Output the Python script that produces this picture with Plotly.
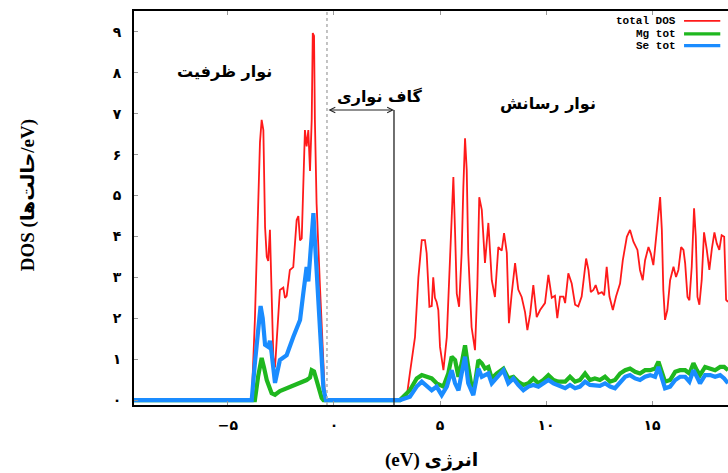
import plotly.graph_objects as go

# ---------------- data ----------------
# total DOS, valence band
E_total_vb = [-9.6, -3.88, -3.73, -3.57, -3.49, -3.41, -3.33, -3.25, -3.17, -3.10,
              -3.02, -2.94, -2.86, -2.78, -2.67, -2.55, -2.39, -2.31, -2.23, -2.08,
              -1.92, -1.76, -1.68, -1.60, -1.52, -1.45, -1.37, -1.29, -1.21, -1.13,
              -1.05, -1.00, -0.94, -0.90, -0.82, -0.66, -0.50, -0.42]
dos_total_vb = [0, 0, 1.96, 5.06, 6.3, 6.85, 6.6, 4.23, 3.5, 3.4,
                4.16, 2.6, 1.05, 0.8, 1.6, 2.69, 2.75, 2.5, 2.55, 3.18,
                3.25, 4.4, 4.5, 3.9, 3.95, 4.96, 6.6, 6.2, 6.6, 5.6,
                6.85, 8.97, 8.9, 6.85, 4.8, 2.77, 1.15, 0]
# total DOS, conduction band
E_total_cb = [3.11, 3.43, 3.58, 3.82, 3.98, 4.14, 4.29, 4.37, 4.50, 4.61,
              4.68, 4.76, 4.84, 4.92, 5.00, 5.16, 5.32, 5.47, 5.55, 5.63,
              5.71, 5.79, 5.90, 6.02, 6.10, 6.18, 6.26, 6.33, 6.49, 6.65,
              6.76, 6.85, 6.97, 7.12, 7.28, 7.44, 7.59, 7.75, 7.91, 8.02,
              8.15, 8.25, 8.38, 8.54, 8.69, 8.85, 9.01, 9.12, 9.25, 9.40,
              9.56, 9.72, 9.95, 10.11, 10.27, 10.42, 10.53, 10.66, 10.82, 10.90,
              11.05, 11.21, 11.37, 11.52, 11.68, 11.89, 12.00, 12.11, 12.23, 12.34,
              12.47, 12.63, 12.74, 12.86, 12.99, 13.15, 13.30, 13.49, 13.62, 13.81,
              13.96, 14.12, 14.31, 14.43, 14.56, 14.67, 14.83, 14.94, 15.06, 15.19,
              15.30, 15.38, 15.46, 15.53, 15.61, 15.72, 15.85, 16.01, 16.13, 16.24,
              16.37, 16.48, 16.56, 16.67, 16.76, 16.87, 16.98, 17.06, 17.14, 17.23,
              17.34, 17.45, 17.58, 17.70, 17.82, 17.94, 18.05, 18.17, 18.28, 18.40,
              18.49, 18.58]
dos_total_cb = [0, 0.08, 0.66, 1.54, 3.0, 3.91, 3.91, 3.59, 2.28, 2.3,
                3.0, 2.5, 2.4, 2.2, 1.3, 0.73, 1.54, 3.35, 4.4, 5.45,
                4.1, 2.6, 2.28, 3.59, 5.2, 6.4, 5.62, 3.6, 1.78, 1.22,
                2.77, 4.96, 4.65, 3.35, 4.33, 2.93, 2.52, 3.74, 3.65, 4.08,
                3.6, 1.88, 2.6, 3.35, 2.7, 2.52, 2.15, 1.71, 2.1, 2.81,
                2.03, 2.2, 2.37, 3.06, 2.5, 2.55, 2.0, 2.53, 2.53, 2.37,
                3.1, 2.85, 2.33, 2.29, 2.53, 3.46, 3.18, 2.64, 2.69, 2.81,
                2.6, 2.64, 2.56, 3.26, 2.53, 2.2, 2.53, 2.85, 3.42, 3.99,
                4.16, 3.87, 3.67, 3.18, 2.93, 3.42, 3.74, 3.58, 3.3, 3.91,
                4.57, 4.96, 4.16, 2.69, 1.96, 2.2, 2.93, 3.26, 3.01, 3.18,
                3.74, 3.67, 3.34, 2.52, 2.44, 3.26, 4.69, 4.0, 2.52, 2.33,
                2.93, 4.1, 3.67, 3.18, 3.7, 4.1, 3.83, 3.67, 4.03, 3.99,
                2.45, 2.4]

# Mg partial DOS
E_mg = [-9.6, -3.73, -3.57, -3.41, -3.30, -3.17, -2.94, -2.78, -2.55, -2.08,
        -1.60, -1.29, -1.13, -1.05, -0.94, -0.82, -0.58, -0.50,
        3.11, 3.58, 3.90, 4.14, 4.37, 4.61, 4.84, 5.16, 5.39, 5.55,
        5.71, 5.87, 6.02, 6.18, 6.33, 6.49, 6.65, 6.81, 6.97, 7.12,
        7.28, 7.44, 7.67, 7.99, 8.22, 8.46, 8.69, 8.93, 9.17, 9.40,
        9.64, 9.87, 10.11, 10.35, 10.58, 10.90, 11.13, 11.37, 11.60, 11.84,
        12.07, 12.30, 12.54, 12.78, 13.02, 13.25, 13.49, 13.73, 13.96, 14.20,
        14.43, 14.67, 14.91, 15.14, 15.30, 15.46, 15.61, 15.85, 16.09, 16.32,
        16.56, 16.76, 16.95, 17.11, 17.26, 17.50, 17.74, 17.97, 18.21, 18.40,
        18.58]
dos_mg = [0, 0, 0.6, 1.03, 0.8, 0.49, 0.17, 0.13, 0.22, 0.32,
          0.4, 0.49, 0.55, 0.73, 0.7, 0.45, 0.05, 0,
          0, 0.24, 0.53, 0.61, 0.57, 0.53, 0.41, 0.33, 0.65, 1.06,
          0.98, 0.57, 0.9, 1.34, 0.81, 0.33, 0.41, 0.98, 0.9, 0.77,
          0.81, 0.53, 0.65, 0.77, 0.53, 0.57, 0.45, 0.37, 0.41, 0.53,
          0.41, 0.49, 0.61, 0.49, 0.45, 0.45, 0.57, 0.45, 0.49, 0.65,
          0.49, 0.53, 0.49, 0.57, 0.45, 0.49, 0.65, 0.73, 0.77, 0.69,
          0.65, 0.73, 0.73, 0.77, 0.94, 0.65, 0.45, 0.49, 0.69, 0.73,
          0.73, 0.65, 0.9, 0.73, 0.61, 0.81, 0.77, 0.73, 0.81, 0.81,
          0.73]

# Se partial DOS
E_se = [-9.6, -3.88, -3.73, -3.57, -3.46, -3.36, -3.25, -3.10, -3.02, -2.94,
        -2.78, -2.55, -2.23, -1.92, -1.60, -1.45, -1.29, -1.21, -1.05, -0.97,
        -0.90, -0.79, -0.66, -0.50, -0.38,
        3.11, 3.58, 3.90, 4.14, 4.37, 4.61, 4.84, 5.08, 5.32, 5.55,
        5.71, 5.87, 6.02, 6.18, 6.33, 6.57, 6.81, 6.97, 7.12, 7.28,
        7.44, 7.67, 7.99, 8.22, 8.46, 8.69, 8.93, 9.17, 9.40, 9.64,
        9.87, 10.11, 10.35, 10.58, 10.90, 11.13, 11.37, 11.60, 11.84, 12.07,
        12.30, 12.54, 12.78, 13.02, 13.25, 13.49, 13.73, 13.96, 14.20, 14.43,
        14.67, 14.91, 15.14, 15.30, 15.46, 15.61, 15.85, 16.09, 16.32, 16.56,
        16.76, 16.95, 17.11, 17.26, 17.50, 17.74, 17.97, 18.21, 18.40, 18.58]
dos_se = [0, 0, 0.9, 1.9, 2.3, 2.0, 1.35, 1.3, 1.45, 1.15,
          0.42, 0.98, 1.1, 1.54, 1.96, 2.6, 3.25, 2.9, 3.99, 4.57,
          3.9, 2.77, 1.54, 0.3, 0,
          0, 0.08, 0.33, 0.45, 0.33, 0.24, 0.33, 0.12, 0.33, 0.73,
          0.41, 0.24, 0.65, 1.06, 0.41, 0.12, 0.77, 0.57, 0.61, 0.65,
          0.41, 0.53, 0.73, 0.41, 0.53, 0.37, 0.24, 0.33, 0.37, 0.33,
          0.41, 0.49, 0.41, 0.35, 0.29, 0.37, 0.29, 0.33, 0.45, 0.37,
          0.37, 0.35, 0.41, 0.33, 0.29, 0.45, 0.57, 0.61, 0.53, 0.49,
          0.57, 0.61, 0.57, 0.81, 0.49, 0.29, 0.33, 0.49, 0.57, 0.57,
          0.45, 0.73, 0.57, 0.41, 0.61, 0.61, 0.57, 0.61, 0.53, 0.41]

series_names = ["total DOS", "Mg tot", "Se tot"]
series_colors = ["#ff1a1a", "#1fb71f", "#1a8cff"]

x_tickvals = [-5, 0, 5, 10, 15]
x_ticktext = ["−۵", "۰", "۵", "۱۰", "۱۵"]
y_tickvals = [0, 1, 2, 3, 4, 5, 6, 7, 8, 9]
y_ticktext = ["۰", "۱", "۲", "۳", "۴", "۵", "۶", "۷", "۸", "۹"]

x_title = "(eV) انرژی"
y_title = "DOS (حالت\u200cها/eV)"

fermi_line = -0.33      # dotted line
gap_edge = 2.83         # conduction-band edge marker
gap_arrow_y = 7.09

assert len(E_total_vb) == len(dos_total_vb)
assert len(E_total_cb) == len(dos_total_cb)
assert len(E_mg) == len(dos_mg)
assert len(E_se) == len(dos_se)

# ---------------- figure ----------------
FONT_SERIF = "Liberation Serif, DejaVu Sans, serif"
FONT_AR = "DejaVu Sans, Liberation Serif, sans-serif"

fig = go.Figure()
fig.add_trace(go.Scatter(x=E_total_vb + E_total_cb, y=dos_total_vb + dos_total_cb,
                         mode="lines", name=series_names[0],
                         line=dict(color=series_colors[0], width=1.8)))
fig.add_trace(go.Scatter(x=E_mg, y=dos_mg, mode="lines", name=series_names[1],
                         line=dict(color=series_colors[1], width=4.2)))
fig.add_trace(go.Scatter(x=E_se, y=dos_se, mode="lines", name=series_names[2],
                         line=dict(color=series_colors[2], width=4.2)))

fig.update_layout(
    width=728, height=473,
    margin=dict(l=134, r=0, t=11, b=68),
    plot_bgcolor="white", paper_bgcolor="white",
    showlegend=False,
    xaxis=dict(range=[-9.43, 18.58], tickvals=x_tickvals, ticktext=x_ticktext,
               ticks="inside", ticklen=4, tickcolor="#999999", showgrid=False,
               zeroline=False, showline=True, linecolor="black", linewidth=2,
               mirror="ticks", ticklabelstandoff=6, automargin=False,
               tickfont=dict(family=FONT_AR, size=14, color="black", weight="bold")),
    yaxis=dict(range=[-0.12, 9.51], tickvals=y_tickvals, ticktext=y_ticktext,
               ticks="inside", ticklen=4, tickcolor="#999999", showgrid=False,
               zeroline=False, showline=True, linecolor="black", linewidth=2,
               ticklabelstandoff=8, automargin=False,
               tickfont=dict(family=FONT_AR, size=14, color="black", weight="bold")),
)

# axis titles
title_font = dict(family=FONT_SERIF, size=19, color="black", weight="bold")
fig.add_annotation(x=0.5, y=-0.14, xref="paper", yref="paper", text=x_title,
                   showarrow=False, xanchor="center", yanchor="middle", font=title_font)
fig.add_annotation(x=-0.178, y=0.533, xref="paper", yref="paper", text=y_title,
                   showarrow=False, textangle=-90, xanchor="center", yanchor="middle",
                   font=title_font)

# reference lines
fig.add_shape(type="line", xref="x", yref="paper", x0=fermi_line, x1=fermi_line, y0=0, y1=1,
              line=dict(color="#b0b0b0", width=1.5, dash="dot"))
fig.add_shape(type="line", xref="x", yref="y", x0=gap_edge, x1=gap_edge, y0=-0.12, y1=gap_arrow_y,
              line=dict(color="#222222", width=1.3))
fig.add_annotation(x=gap_edge, y=gap_arrow_y, ax=fermi_line, ay=gap_arrow_y,
                   xref="x", yref="y", axref="x", ayref="y", text="", showarrow=True,
                   arrowhead=5, startarrowhead=5, arrowside="end+start",
                   arrowsize=1, startarrowsize=1, arrowwidth=1.1, arrowcolor="#222222")

# region labels
label_font = dict(family=FONT_AR, size=16, color="black", weight="bold")
fig.add_annotation(x=-5.14, y=8.02, xref="x", yref="y", text="نوار ظرفیت",
                   showarrow=False, font=label_font)
fig.add_annotation(x=2.17, y=7.43, xref="x", yref="y", text="گاف نواری",
                   showarrow=False, font=label_font)
fig.add_annotation(x=10.09, y=7.26, xref="x", yref="y", text="نوار رسانش",
                   showarrow=False, font=label_font)

# gnuplot-style key (text right-aligned, sample line to the right)
key_rows_y = [0.975, 0.942, 0.912]
for name, color, yy, w in zip(series_names, series_colors, key_rows_y, [1.6, 3.2, 3.2]):
    fig.add_annotation(x=0.915, y=yy, xref="paper", yref="paper", text=name,
                       xanchor="right", yanchor="middle", showarrow=False,
                       font=dict(family="Liberation Mono, DejaVu Sans Mono, monospace",
                                 size=11, color="black", weight="bold"))
    fig.add_shape(type="line", xref="paper", yref="paper", x0=0.926, x1=0.987, y0=yy, y1=yy,
                  line=dict(color=color, width=w))

# remove the default page margin so the 728x473 figure fills the window exactly
fig.write_html("out.html", config={"displayModeBar": False},
               post_script="document.body.style.margin='0';")
